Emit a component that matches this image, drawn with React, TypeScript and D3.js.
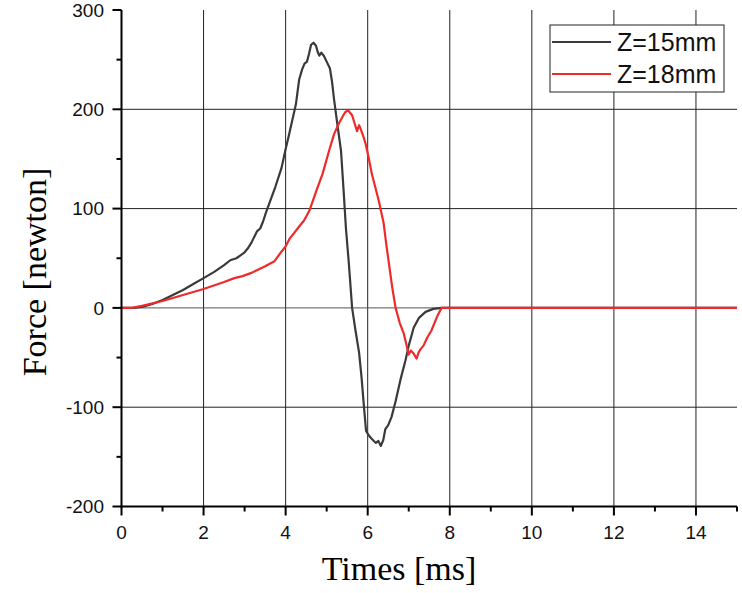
import React from "react";
import * as d3 from "d3";

const series15: [number, number][] = [
  [0, 0], [0.3, 0], [0.5, 1], [0.75, 4], [1, 8], [1.25, 13], [1.5, 18], [1.75, 24], [2, 30], [2.25, 36],
  [2.5, 43], [2.65, 48], [2.8, 50], [2.9, 53], [3.0, 56], [3.08, 60], [3.17, 66], [3.3, 77], [3.38, 80],
  [3.45, 87], [3.52, 96], [3.6, 105], [3.75, 122], [3.9, 141], [4.0, 160], [4.07, 172], [4.14, 185],
  [4.25, 205], [4.33, 230], [4.4, 240], [4.46, 246], [4.52, 248], [4.57, 256], [4.62, 265], [4.68, 267],
  [4.74, 264], [4.78, 258], [4.82, 254], [4.87, 257], [4.93, 254], [5.0, 248], [5.08, 241], [5.13, 228],
  [5.18, 210], [5.27, 182], [5.35, 158], [5.41, 120], [5.47, 80], [5.54, 45], [5.62, 0], [5.7, -22],
  [5.79, -45], [5.85, -70], [5.91, -100], [5.96, -124], [6.02, -128], [6.08, -131], [6.15, -134],
  [6.2, -136], [6.26, -134], [6.32, -139], [6.38, -133], [6.43, -122], [6.5, -118], [6.58, -110],
  [6.68, -94], [6.8, -72], [6.92, -53], [7.0, -38], [7.12, -20], [7.25, -10], [7.41, -4], [7.6, -1],
  [7.8, 0], [15, 0],
];

const series18: [number, number][] = [
  [0, 0], [0.25, 0], [0.5, 2], [1, 7], [1.5, 13], [2, 19], [2.5, 26], [2.75, 30], [2.95, 32], [3.15, 35],
  [3.3, 38], [3.5, 42], [3.73, 47], [3.85, 54], [4.0, 62], [4.1, 70], [4.2, 75], [4.33, 82], [4.45, 88],
  [4.58, 98], [4.75, 118], [4.9, 135], [5.05, 157], [5.18, 175], [5.3, 186], [5.38, 192], [5.45, 197],
  [5.52, 199], [5.62, 194], [5.68, 186], [5.74, 178], [5.79, 184], [5.83, 180], [5.9, 172], [5.95, 165],
  [6.02, 152], [6.1, 135], [6.27, 108], [6.39, 85], [6.45, 65], [6.51, 47], [6.6, 20], [6.68, 0],
  [6.78, -15], [6.88, -26], [6.95, -38], [7.0, -47], [7.05, -43], [7.12, -46], [7.19, -51], [7.24, -45],
  [7.28, -42], [7.36, -38], [7.45, -30], [7.55, -23], [7.7, -8], [7.8, 0], [15, 0],
];

const xMajorTicks = [0, 2, 4, 6, 8, 10, 12, 14];
const xMinorTicks = [1, 3, 5, 7, 9, 11, 13, 15];
const yMajorTicks = [-200, -100, 0, 100, 200, 300];
const yMinorTicks = [-150, -50, 50, 150, 250];
const xGrid = [2, 4, 6, 8, 10, 12, 14];
const yGrid = [-100, 0, 100, 200];
const legendLabels = ["Z=15mm", "Z=18mm"];
const colors = ["#3a3a3a", "#ee2a2a"];

export default function App() {
  const W = 742, H = 593;
  const left = 121.5, right = 737, top = 10, bottom = 506.5;
  const x = d3.scaleLinear().domain([0, 15]).range([left, right]);
  const y = d3.scaleLinear().domain([-200, 300]).range([bottom, top]);
  const line = d3.line<[number, number]>().x((d) => x(d[0])).y((d) => y(d[1]));
  const tickFont = "'Liberation Sans', Arial, sans-serif";
  const serif = "'Liberation Serif', 'Times New Roman', serif";

  return (
    <svg width={W} height={H} style={{ position: "absolute", left: 0, top: 0, background: "#fff" }}>
      <rect x={0} y={0} width={W} height={H} fill="#fff" />
      {xGrid.map((v) => (
        <line key={"gx" + v} x1={x(v)} x2={x(v)} y1={top} y2={bottom} stroke="#222" strokeWidth={1} />
      ))}
      {yGrid.map((v) => (
        <line key={"gy" + v} x1={left} x2={right} y1={y(v)} y2={y(v)} stroke={v === 0 ? "#555" : "#222"} strokeWidth={1} />
      ))}
      <path d={line(series15) || ""} fill="none" stroke={colors[0]} strokeWidth={2.2} strokeLinejoin="round" />
      <path d={line(series18) || ""} fill="none" stroke={colors[1]} strokeWidth={2.2} strokeLinejoin="round" />
      {/* axes */}
      <line x1={left} x2={left} y1={top} y2={bottom + 1} stroke="#000" strokeWidth={2} />
      <line x1={left - 1} x2={right} y1={bottom} y2={bottom} stroke="#000" strokeWidth={2} />
      {yMajorTicks.map((v) => (
        <g key={"ym" + v}>
          <line x1={left - 9} x2={left} y1={y(v)} y2={y(v)} stroke="#000" strokeWidth={2} />
          <text x={104} y={y(v)} dy="0.36em" textAnchor="end" fontFamily={tickFont} fontSize={19} fill="#111">
            {v}
          </text>
        </g>
      ))}
      {yMinorTicks.map((v) => (
        <line key={"yn" + v} x1={left - 5} x2={left} y1={y(v)} y2={y(v)} stroke="#000" strokeWidth={2} />
      ))}
      {xMajorTicks.map((v) => (
        <g key={"xm" + v}>
          <line x1={x(v)} x2={x(v)} y1={bottom} y2={bottom + 9} stroke="#000" strokeWidth={2} />
          <text x={x(v)} y={539} textAnchor="middle" fontFamily={tickFont} fontSize={19} fill="#111">
            {v}
          </text>
        </g>
      ))}
      {xMinorTicks.map((v) => (
        <line key={"xn" + v} x1={x(v)} x2={x(v)} y1={bottom} y2={bottom + 5} stroke="#000" strokeWidth={2} />
      ))}
      <text x={399} y={580} textAnchor="middle" fontFamily={serif} fontSize={34} fill="#000">
        Times [ms]
      </text>
      <text
        transform="translate(46,272) rotate(-90)"
        textAnchor="middle"
        fontFamily={serif}
        fontSize={34}
        fill="#000"
      >
        Force [newton]
      </text>
      {/* legend */}
      <rect x={550} y={25} width={174} height={67} fill="#fff" stroke="#222" strokeWidth={1} />
      {legendLabels.map((lab, i) => (
        <g key={lab}>
          <line x1={552} x2={611} y1={42 + i * 32} y2={42 + i * 32} stroke={colors[i]} strokeWidth={2.2} />
          <text x={617} y={42 + i * 32} dy="0.36em" fontFamily={tickFont} fontSize={25} fill="#111">
            {lab}
          </text>
        </g>
      ))}
    </svg>
  );
}
